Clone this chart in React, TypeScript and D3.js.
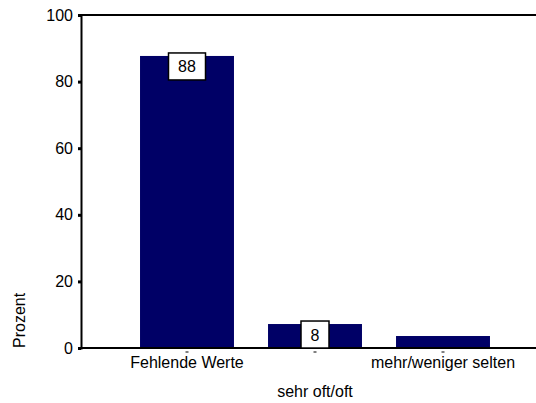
import { useEffect, useRef } from "react";
import * as d3 from "d3";

const categories = ["Fehlende Werte", "sehr oft/oft", "mehr/weniger selten"];
const percent = [87.7, 7.2, 3.6];
const valueLabels = ["88", "8", ""];
const yTicks = [0, 20, 40, 60, 80, 100];
const yTitle = "Prozent";

const W = 536;
const H = 403;
const FONT = "'Liberation Sans', Arial, sans-serif";

export default function App() {
  const svgRef = useRef<SVGSVGElement>(null);

  useEffect(() => {
    if (!svgRef.current) return;
    const svg = d3.select(svgRef.current);
    svg.selectAll("*").remove();

    const left = 81;
    const y = d3.scaleLinear().domain([0, 100]).range([348, 15]);
    const x = d3
      .scaleBand<string>()
      .domain(categories)
      .range([123, 507])
      .paddingInner(0.266)
      .paddingOuter(0.133);

    // Bars
    svg
      .append("g")
      .selectAll("rect")
      .data(categories)
      .join("rect")
      .attr("x", (d) => x(d)!)
      .attr("width", x.bandwidth())
      .attr("y", (_, i) => y(percent[i]))
      .attr("height", (_, i) => y(0) - y(percent[i]))
      .attr("fill", "#000066");

    // Frame lines
    svg
      .append("line")
      .attr("x1", left)
      .attr("x2", W)
      .attr("y1", y(100))
      .attr("y2", y(100))
      .attr("stroke", "#000")
      .attr("stroke-width", 2);
    svg
      .append("line")
      .attr("x1", left - 1)
      .attr("x2", W)
      .attr("y1", y(0))
      .attr("y2", y(0))
      .attr("stroke", "#000")
      .attr("stroke-width", 2);

    // Y axis
    const gy = svg
      .append("g")
      .attr("transform", `translate(${left},0)`)
      .call(d3.axisLeft(y).tickValues(yTicks).tickSize(3).tickPadding(5));
    gy.select(".domain").attr("stroke", "#000").attr("stroke-width", 2);
    gy.selectAll(".tick line").attr("stroke", "#000").attr("stroke-width", 3);
    gy.selectAll("text")
      .attr("fill", "#000")
      .style("font-family", FONT)
      .style("font-size", "16px");

    // X ticks (small dashes) and alternating labels
    const gx = svg.append("g");
    categories.forEach((c, i) => {
      const cx = x(c)! + x.bandwidth() / 2;
      gx.append("line")
        .attr("x1", cx - 1.5)
        .attr("x2", cx + 1.5)
        .attr("y1", y(0) + 4)
        .attr("y2", y(0) + 4)
        .attr("stroke", "#000")
        .attr("stroke-width", 1);
      gx.append("text")
        .attr("x", cx)
        .attr("y", i % 2 === 0 ? 368 : 397)
        .attr("text-anchor", "middle")
        .style("font-family", FONT)
        .style("font-size", "16px")
        .attr("fill", "#000")
        .text(c);
    });

    // Value labels
    categories.forEach((c, i) => {
      const t = valueLabels[i];
      if (!t) return;
      const cx = x(c)! + x.bandwidth() / 2;
      const top = y(percent[i]) - 3;
      const bw = 19 + t.length * 9;
      svg
        .append("rect")
        .attr("x", cx - bw / 2)
        .attr("y", top)
        .attr("width", bw)
        .attr("height", 27)
        .attr("fill", "#fff")
        .attr("stroke", "#000")
        .attr("stroke-width", 1.5);
      svg
        .append("text")
        .attr("x", cx)
        .attr("y", top + 19.5)
        .attr("text-anchor", "middle")
        .style("font-family", FONT)
        .style("font-size", "16px")
        .attr("fill", "#000")
        .text(t);
    });

    // Y title
    svg
      .append("text")
      .attr("transform", `translate(25,348) rotate(-90)`)
      .attr("text-anchor", "start")
      .style("font-family", FONT)
      .style("font-size", "16px")
      .attr("fill", "#000")
      .text(yTitle);
  }, []);

  return (
    <svg
      ref={svgRef}
      width={W}
      height={H}
      style={{ position: "absolute", left: 0, top: 0, background: "#fff" }}
    />
  );
}
